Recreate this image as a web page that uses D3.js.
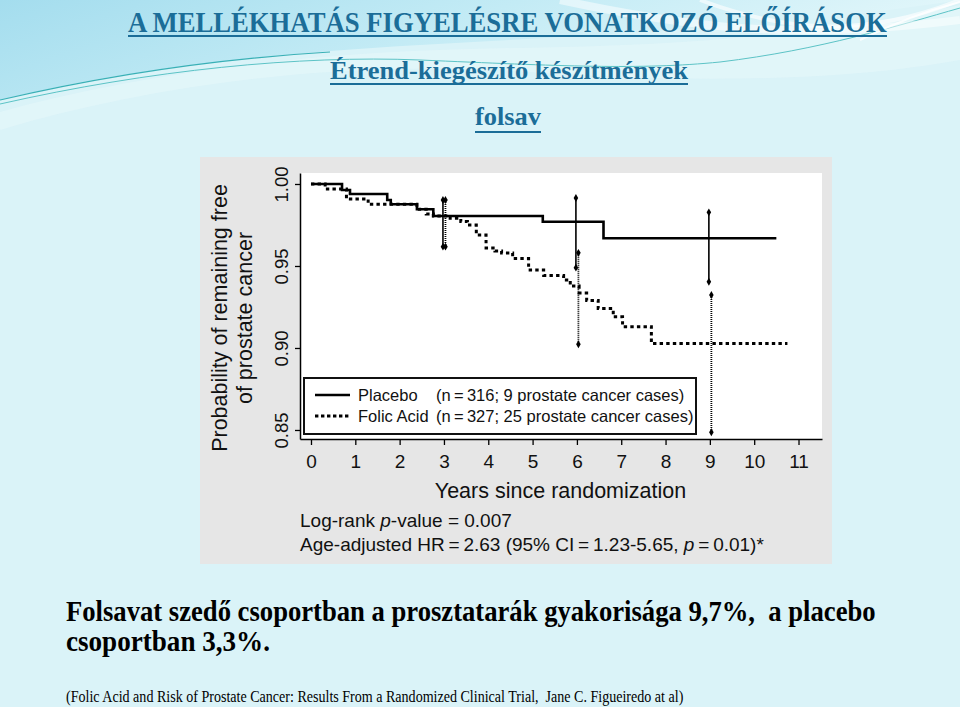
<!DOCTYPE html>
<html>
<head>
<meta charset="utf-8">
<script src="https://cdn.jsdelivr.net/npm/d3@7/dist/d3.min.js"></script>
<style>
html,body{margin:0;padding:0;background:#daf3f8;}
svg{display:block;}
</style>
</head>
<body>
<svg id="c" width="960" height="707"></svg>
<script>
// ---------- data ----------
const xTicks = [0,1,2,3,4,5,6,7,8,9,10,11];
const yTicks = [0.85,0.90,0.95,1.00];

const placeboT = [0, 0.70, 0.88, 1.72, 1.80, 2.39, 2.76, 5.23, 6.60];
const placeboS = [1.000, 0.9963, 0.9939, 0.9902, 0.9876, 0.9846, 0.9805, 0.9770, 0.9669];
const placeboEnd = 10.5;

const folicT = [0, 0.32, 0.80, 1.29, 2.39, 2.60, 2.76, 3.14, 3.38, 3.53, 3.73, 3.95, 4.15, 4.30, 4.55, 4.91, 5.25, 5.70, 5.85, 6.05, 6.22, 6.48, 6.82, 7.03, 7.68];
const folicS = [1.000, 0.997, 0.9909, 0.9876, 0.9846, 0.9817, 0.9805, 0.9791, 0.9771, 0.975, 0.9689, 0.961, 0.9591, 0.9579, 0.9546, 0.9476, 0.9442, 0.9415, 0.9378, 0.9335, 0.929, 0.924, 0.919, 0.913, 0.9027];
const folicEnd = 10.75;

const ciT = [3, 6, 9];
const placeboLo = [0.9618, 0.949, 0.9404];
const placeboHi = [0.9902, 0.9915, 0.9827];
const folicLo = [0.9618, 0.9023, 0.8486];
const folicHi = [0.9902, 0.958, 0.9323];

const legendNames = ["Placebo", "Folic Acid"];
const legendInfo = ["(n\u2009=\u2009316; 9 prostate cancer cases)", "(n\u2009=\u2009327; 25 prostate cancer cases)"];

const titles = ["A MELLÉKHATÁS FIGYELÉSRE VONATKOZÓ ELŐÍRÁSOK", "Étrend-kiegészítő készítmények", "folsav"];
const bodyLines = ["Folsavat szedő csoportban a prosztatarák gyakorisága 9,7%,  a placebo", "csoportban 3,3%."];
const refText = "(Folic Acid and Risk of Prostate Cancer: Results From a Randomized Clinical Trial,  Jane C. Figueiredo at al)";

// ---------- setup ----------
const svg = d3.select("#c");
const defs = svg.append("defs");
const g1 = defs.append("linearGradient").attr("id","tl").attr("x1","0").attr("y1","0").attr("x2","1").attr("y2","0.3");
g1.append("stop").attr("offset","0").attr("stop-color","#a4ddee");
g1.append("stop").attr("offset","0.5").attr("stop-color","#c3ebf5");
g1.append("stop").attr("offset","1").attr("stop-color","#e6f8fb");

// background
svg.append("rect").attr("width",960).attr("height",707).attr("fill","#daf3f8");
svg.append("path").attr("d","M0,0 H960 V0 C 800,25 600,35 420,45 C 250,55 120,70 0,100 Z").attr("fill","url(#tl)");
svg.append("path").attr("d","M0,112 C 150,70 330,50 520,48 C 700,46 850,30 960,5 V60 C 850,80 700,85 500,70 C 330,62 150,85 0,130 Z").attr("fill","#e4f7fa").attr("opacity",0.7);
svg.append("path").attr("d","M0,100 C 120,72 230,58 330,52").attr("fill","none").attr("stroke","#39b0b6").attr("stroke-width",1.2);
svg.append("path").attr("d","M0,104 C 150,70 300,55 420,60 C 560,66 640,70 720,62 C 820,50 900,25 960,8").attr("fill","none").attr("stroke","#5cc3c6").attr("stroke-width",1);
svg.append("path").attr("d","M560,0 C 700,30 800,40 960,20").attr("fill","none").attr("stroke","#ffffff").attr("stroke-width",8).attr("opacity",0.5);
svg.append("path").attr("d","M700,0 C 780,30 860,40 960,0").attr("fill","none").attr("stroke","#ffffff").attr("stroke-width",4).attr("opacity",0.6);
svg.append("path").attr("d","M860,40 C 900,20 930,10 960,2").attr("fill","none").attr("stroke","#ffffff").attr("stroke-width",2).attr("opacity",0.8);

const serif = "Liberation Serif, Times New Roman, serif";
// place a text at (x0,y0) and squeeze it horizontally to the target width
function fitText(parent, str, x0, y0, target, size, weight, color){
  const t = parent.append("text").attr("x",0).attr("y",0)
    .attr("font-family", serif).attr("font-size", size).attr("font-weight", weight)
    .attr("fill", color).attr("xml:space","preserve").text(str);
  const w = t.node().getComputedTextLength();
  t.attr("transform", `translate(${x0},${y0}) scale(${target/w},1)`);
  return t;
}

// titles
const titleColor = "#1b6d98";
const titleSpec = [
  {cx:507.5, y:32, size:29, len:759, ul:35},
  {cx:509, y:79, size:26, len:358, ul:83},
  {cx:508, y:125, size:26, len:66, ul:131}
];
titles.forEach((t,i)=>{
  const s = titleSpec[i];
  fitText(svg, t, s.cx - s.len/2, s.y, s.len, s.size, "bold", titleColor);
  svg.append("rect").attr("x", s.cx - s.len/2).attr("y", s.ul).attr("width", s.len).attr("height", 2).attr("fill", titleColor);
});

// chart panel
svg.append("rect").attr("x",200).attr("y",157).attr("width",632).attr("height",407).attr("fill","#e6e6e6");
const L = 300, R = 822, T = 173, B = 439;
svg.append("rect").attr("x",L).attr("y",T).attr("width",R-L).attr("height",B-T).attr("fill","#ffffff");

const x = d3.scaleLinear().domain([-0.248, 11.53]).range([L, R]);
const y = d3.scaleLinear().domain([0.8445, 1.0067]).range([B, T]);

const font = "Liberation Sans, Arial, Helvetica, sans-serif";

// axes
const xAxis = svg.append("g").attr("transform",`translate(0,${B})`)
  .call(d3.axisBottom(x).tickValues(xTicks).tickSize(6).tickSizeOuter(0).tickFormat(d3.format("d")));
xAxis.select(".domain").attr("stroke","#000").attr("stroke-width",1.5);
xAxis.selectAll(".tick line").attr("stroke","#000").attr("stroke-width",1.3);
xAxis.selectAll(".tick text").attr("y",29).attr("dy",0).attr("font-family",font).attr("font-size",19).attr("fill","#111");

const yAxis = svg.append("g").attr("transform",`translate(${L},0)`)
  .call(d3.axisLeft(y).tickValues(yTicks).tickSize(5).tickSizeOuter(0).tickFormat(d3.format(".2f")));
yAxis.select(".domain").attr("stroke","#000").attr("stroke-width",1.5);
yAxis.selectAll(".tick line").attr("stroke","#000").attr("stroke-width",1.3);
yAxis.selectAll(".tick text").attr("transform","rotate(-90)").attr("x",0).attr("y",-12.5).attr("dy",0)
  .attr("text-anchor","middle").attr("font-family",font).attr("font-size",18.5).attr("fill","#111");

// axis titles
svg.append("text").attr("transform","translate(227,318) rotate(-90)").attr("text-anchor","middle")
  .attr("font-family",font).attr("font-size",21.5).attr("fill","#111").text("Probability of remaining free");
svg.append("text").attr("transform","translate(252,318) rotate(-90)").attr("text-anchor","middle")
  .attr("font-family",font).attr("font-size",21.5).attr("fill","#111").text("of prostate cancer");
svg.append("text").attr("x",560.5).attr("y",498).attr("text-anchor","middle")
  .attr("font-family",font).attr("font-size",21.5).attr("fill","#111").text("Years since randomization");

// stats text
const st1 = svg.append("text").attr("x",300).attr("y",527).attr("font-family",font).attr("font-size",19).attr("fill","#111");
st1.append("tspan").text("Log-rank ");
st1.append("tspan").attr("font-style","italic").text("p");
st1.append("tspan").text("-value = 0.007");
const st2 = svg.append("text").attr("x",300).attr("y",551).attr("font-family",font).attr("font-size",19).attr("fill","#111");
st2.append("tspan").text("Age-adjusted HR\u2009=\u20092.63 (95% CI\u2009=\u20091.23-5.65, ");
st2.append("tspan").attr("font-style","italic").text("p");
st2.append("tspan").text("\u2009=\u20090.01)*");

// curves
const line = d3.line().x(d=>x(d[0])).y(d=>y(d[1])).curve(d3.curveStepAfter);
const placeboPts = placeboT.map((t,i)=>[t, placeboS[i]]).concat([[placeboEnd, placeboS[placeboS.length-1]]]);
const folicPts = folicT.map((t,i)=>[t, folicS[i]]).concat([[folicEnd, folicS[folicS.length-1]]]);

svg.append("path").attr("d", line(folicPts)).attr("fill","none").attr("stroke","#000")
  .attr("stroke-width",3).attr("stroke-dasharray","3.4,3.2");
svg.append("path").attr("d", line(placeboPts)).attr("fill","none").attr("stroke","#000")
  .attr("stroke-width",2.6);

// confidence bars
const diamond = d3.symbol().type(d3.symbolDiamond).size(18);
ciT.forEach((t,i)=>{
  const px = x(t) - 1, fx = x(t) + 1.5;
  svg.append("line").attr("x1",px).attr("x2",px).attr("y1",y(placeboHi[i])).attr("y2",y(placeboLo[i]))
    .attr("stroke","#000").attr("stroke-width",1.6);
  svg.append("line").attr("x1",fx).attr("x2",fx).attr("y1",y(folicHi[i])).attr("y2",y(folicLo[i]))
    .attr("stroke","#000").attr("stroke-width",1.8).attr("stroke-dasharray","1,1");
  [[px,placeboHi[i]],[px,placeboLo[i]],[fx,folicHi[i]],[fx,folicLo[i]]].forEach(p=>{
    svg.append("path").attr("d",diamond()).attr("transform",`translate(${p[0]},${y(p[1])})`).attr("fill","#000");
  });
});

// legend
svg.append("rect").attr("x",304).attr("y",378).attr("width",392).attr("height",56)
  .attr("fill","#fff").attr("stroke","#111").attr("stroke-width",2);
const legY = [395, 416];
legendNames.forEach((n,i)=>{
  const ln = svg.append("line").attr("x1",315).attr("x2",350).attr("y1",legY[i]).attr("y2",legY[i]).attr("stroke","#000");
  if(i===0) ln.attr("stroke-width",2.6); else ln.attr("stroke-width",3).attr("stroke-dasharray","3.4,2.6");
  svg.append("text").attr("x",358).attr("y",legY[i]+6).attr("font-family",font).attr("font-size",16.5).attr("fill","#111").text(n);
  svg.append("text").attr("x",436).attr("y",legY[i]+6).attr("font-family",font).attr("font-size",16.5).attr("fill","#111").text(legendInfo[i]);
});

// body text
const bodySpec = [{x:66, y:621, len:810},{x:66, y:651, len:204}];
bodyLines.forEach((t,i)=>{
  fitText(svg, t, bodySpec[i].x, bodySpec[i].y, bodySpec[i].len, 30, "bold", "#000");
});
fitText(svg, refText, 66, 702, 618, 16, "normal", "#000");
</script>
</body>
</html>
